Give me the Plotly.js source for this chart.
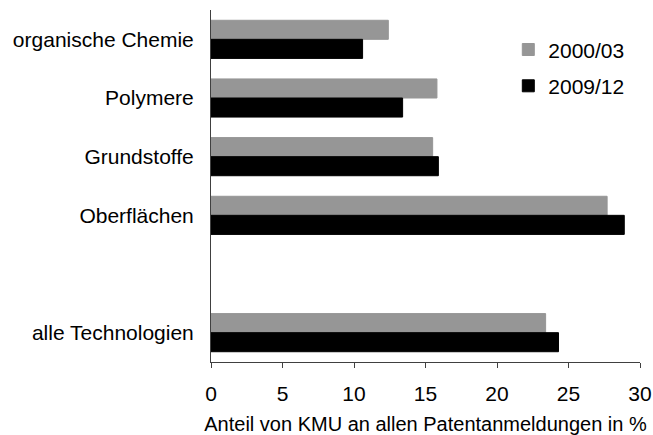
<!DOCTYPE html>
<html>
<head>
<meta charset="utf-8">
<script src="https://cdn.plot.ly/plotly-3.0.1.min.js"></script>
<style>html,body{margin:0;padding:0;background:#fff;}</style>
</head>
<body>
<div id="chart" style="width:653px;height:435px;"></div>
<script>
const categories = ["organische Chemie", "Polymere", "Grundstoffe", "Oberflächen", " ", "alle Technologien"];
const series1Name = "2000/03";
const series1Values = [12.4, 15.8, 15.5, 27.7, null, 23.4];
const series2Name = "2009/12";
const series2Values = [10.6, 13.4, 15.9, 28.9, null, 24.3];
const xTicks = [0, 5, 10, 15, 20, 25, 30];
const xTitle = "Anteil von KMU an allen Patentanmeldungen in %";

const font = {family: "Liberation Sans, Arial, sans-serif", size: 21, color: "#000"};
const titleFont = {family: "Liberation Sans, Arial, sans-serif", size: 20, color: "#000"};

const traces = [
  {type: "bar", orientation: "h", name: series1Name, y: categories, x: series1Values,
   marker: {color: "#969696", line: {color: "#969696", width: 1}}, legendgroup: "a", hoverinfo: "x+y"},
  {type: "bar", orientation: "h", name: series2Name, y: categories, x: series2Values,
   marker: {color: "#000000", line: {color: "#000000", width: 1}}, legendgroup: "b", hoverinfo: "x+y"}
];

const layout = {
  width: 653, height: 435,
  margin: {l: 210.5, r: 13, t: 10, b: 73, autoexpand: false},
  paper_bgcolor: "#fff", plot_bgcolor: "#fff",
  font: font,
  barmode: "group",
  bargap: 0.35,
  bargroupgap: 0,
  showlegend: true,
  legend: {
    x: 0.693, y: 0.945, xanchor: "left", yanchor: "top",
    font: font, bgcolor: "rgba(0,0,0,0)",
    traceorder: "grouped", tracegroupgap: 6, itemwidth: 30
  },
  xaxis: {
    range: [0, 30], tickvals: xTicks, ticktext: xTicks.map(String),
    showgrid: false, zeroline: false,
    showline: true, linecolor: "#404040", linewidth: 1,
    ticks: "outside", ticklen: 5, tickcolor: "#404040", tickwidth: 1,
    tickfont: font, ticklabelstandoff: 8,
    title: {text: xTitle, font: titleFont, standoff: 13},
    automargin: false, fixedrange: true
  },
  yaxis: {
    type: "category", categoryorder: "array", categoryarray: categories,
    range: [5.5, -0.5],
    showgrid: false, zeroline: false,
    showline: true, linecolor: "#404040", linewidth: 1,
    ticks: "", tickfont: font, ticklabelstandoff: 12,
    automargin: false, fixedrange: true
  }
};

Plotly.newPlot("chart", traces, layout, {staticPlot: true, displayModeBar: false});
</script>
</body>
</html>
